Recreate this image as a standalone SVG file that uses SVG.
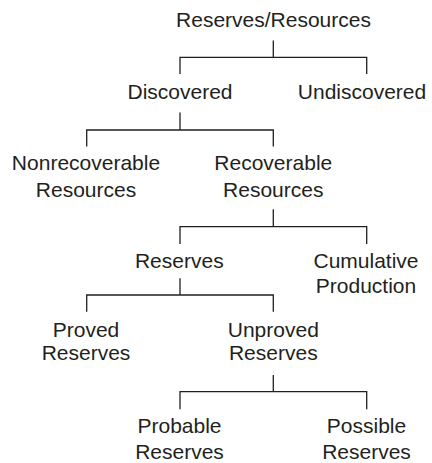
<svg xmlns="http://www.w3.org/2000/svg" width="432" height="463" viewBox="0 0 432 463">
<style>
text{font-family:"Liberation Sans",Arial,sans-serif;font-size:21px;fill:#231f20;text-anchor:middle}
.c path{fill:none;stroke:#231f20;stroke-width:1.3}
</style>
<rect width="432" height="463" fill="#fff"/>
<g class="c" id="connectors">
<path d="M273.3 40.5V57.3M180 74V57.3H366.7V74"/>
<path d="M180 112.5V130M86.7 146.5V130H273.3V146.5"/>
<path d="M273.3 209.3V226.7M180 244V226.7H366.7V244"/>
<path d="M180 278.3V295M86.7 311.7V295H273.3V311.7"/>
<path d="M273.3 375V391.7M180 409.3V391.7H366.7V409.3"/>
</g>
<g id="n-root"><text x="273.5" y="27">Reserves/Resources</text></g>
<g id="n-discovered"><text x="180" y="99">Discovered</text></g>
<g id="n-undiscovered"><text x="362" y="99">Undiscovered</text></g>
<g id="n-nonrecoverable"><text x="86" y="170">Nonrecoverable</text><text x="86" y="196.7">Resources</text></g>
<g id="n-recoverable"><text x="273.3" y="170">Recoverable</text><text x="273.3" y="196.7">Resources</text></g>
<g id="n-reserves"><text x="179.3" y="268.3">Reserves</text></g>
<g id="n-cumulative"><text x="366" y="268.3">Cumulative</text><text x="366" y="293.3">Production</text></g>
<g id="n-proved"><text x="86" y="336.7">Proved</text><text x="86" y="360">Reserves</text></g>
<g id="n-unproved"><text x="273.3" y="336.7">Unproved</text><text x="273.3" y="360">Reserves</text></g>
<g id="n-probable"><text x="179.5" y="433.3">Probable</text><text x="179.5" y="459.3">Reserves</text></g>
<g id="n-possible"><text x="366.5" y="433.3">Possible</text><text x="366.5" y="459.3">Reserves</text></g>
</svg>
